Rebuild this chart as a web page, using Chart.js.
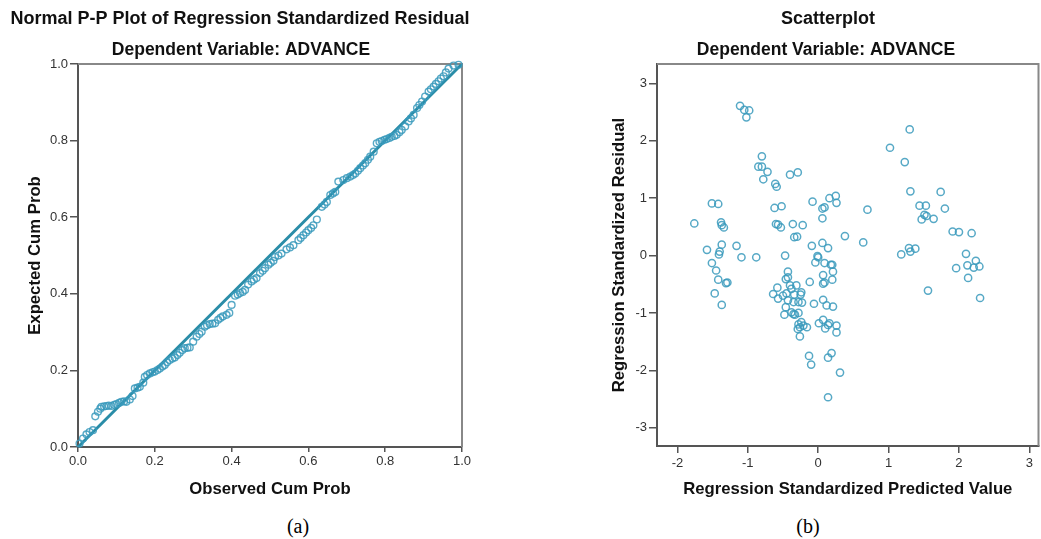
<!DOCTYPE html>
<html>
<head>
<meta charset="utf-8">
<script src="https://cdn.jsdelivr.net/npm/chart.js@4.4.0/dist/chart.umd.min.js"></script>
<style>
body { margin: 0; background: #fff; width: 1041px; height: 539px; overflow: hidden; position: relative; }
.box { position: absolute; top: 0; height: 505px; }
#ppBox { left: 0; width: 480px; }
#scBox { left: 595px; width: 449px; }
.cap { position: absolute; top: 514px; width: 60px; text-align: center; font-family: "Liberation Serif", "Times New Roman", serif; font-size: 20px; line-height: 24px; color: #000; }
</style>
</head>
<body>
<div class="box" id="ppBox"><canvas id="pp" width="480" height="505"></canvas></div>
<div class="box" id="scBox"><canvas id="sc" width="449" height="505"></canvas></div>
<div class="cap" style="left:268px">(a)</div>
<div class="cap" style="left:778px">(b)</div>
<script>
// P-P plot: observed vs expected cumulative probability
const ppObs = [0.004, 0.013, 0.022, 0.030, 0.039, 0.045, 0.052, 0.058, 0.061, 0.068,
  0.074, 0.080, 0.087, 0.094, 0.100, 0.107, 0.113, 0.120, 0.126, 0.135,
  0.142, 0.148, 0.155, 0.161, 0.170, 0.174, 0.180, 0.187, 0.194, 0.200,
  0.207, 0.213, 0.220, 0.226, 0.232, 0.239, 0.246, 0.252, 0.259, 0.265,
  0.272, 0.278, 0.285, 0.291, 0.300, 0.309, 0.316, 0.322, 0.330, 0.336,
  0.343, 0.350, 0.357, 0.365, 0.371, 0.377, 0.387, 0.394, 0.400, 0.409,
  0.416, 0.422, 0.429, 0.435, 0.443, 0.452, 0.458, 0.465, 0.474, 0.481,
  0.487, 0.496, 0.502, 0.509, 0.513, 0.522, 0.530, 0.543, 0.552, 0.561,
  0.574, 0.580, 0.587, 0.594, 0.600, 0.607, 0.613, 0.622, 0.635, 0.642,
  0.648, 0.657, 0.664, 0.670, 0.678, 0.691, 0.700, 0.709, 0.716, 0.722,
  0.729, 0.735, 0.742, 0.748, 0.755, 0.761, 0.770, 0.778, 0.785, 0.791,
  0.798, 0.804, 0.811, 0.817, 0.824, 0.830, 0.837, 0.843, 0.852, 0.861,
  0.867, 0.874, 0.883, 0.889, 0.896, 0.904, 0.913, 0.919, 0.926, 0.932,
  0.939, 0.945, 0.952, 0.958, 0.965, 0.978, 0.991];
const ppExp = [0.009, 0.022, 0.033, 0.039, 0.044, 0.080, 0.092, 0.100, 0.105, 0.106,
  0.107, 0.108, 0.107, 0.110, 0.112, 0.115, 0.118, 0.119, 0.118, 0.124,
  0.133, 0.153, 0.155, 0.157, 0.168, 0.183, 0.188, 0.192, 0.195, 0.197,
  0.201, 0.205, 0.210, 0.214, 0.221, 0.227, 0.231, 0.234, 0.240, 0.246,
  0.253, 0.258, 0.259, 0.260, 0.275, 0.288, 0.295, 0.301, 0.314, 0.318,
  0.321, 0.322, 0.323, 0.332, 0.337, 0.341, 0.345, 0.350, 0.371, 0.395,
  0.398, 0.402, 0.405, 0.410, 0.424, 0.432, 0.437, 0.441, 0.454, 0.460,
  0.467, 0.476, 0.481, 0.486, 0.496, 0.500, 0.505, 0.516, 0.521, 0.527,
  0.540, 0.546, 0.553, 0.560, 0.566, 0.572, 0.579, 0.594, 0.627, 0.633,
  0.640, 0.658, 0.662, 0.666, 0.693, 0.697, 0.702, 0.706, 0.710, 0.714,
  0.721, 0.728, 0.735, 0.741, 0.750, 0.758, 0.771, 0.793, 0.797, 0.799,
  0.802, 0.804, 0.807, 0.810, 0.812, 0.815, 0.822, 0.828, 0.837, 0.850,
  0.858, 0.867, 0.885, 0.893, 0.902, 0.915, 0.928, 0.934, 0.941, 0.948,
  0.955, 0.962, 0.968, 0.978, 0.988, 0.996, 0.998];
const refLineX = [0, 1];
const refLineY = [0, 1];
const ppTicks = [0, 0.2, 0.4, 0.6, 0.8, 1];
const ppTickLabels = ['0.0', '0.2', '0.4', '0.6', '0.8', '1.0'];

// Scatterplot: standardized predicted value vs standardized residual
const predicted = [-1.76, -1.58, -1.51, -1.42, -1.38, -1.37, -1.34, -1.37, -1.40, -1.41, -1.51, -1.45, -1.42, -1.31, -1.29, -1.47, -1.37, -1.16, -1.09, -0.88,
  -1.11, -1.05, -0.98, -1.02, -0.80, -0.85, -0.80, -0.72, -0.78, -0.61, -0.59, -0.40, -0.29, -0.62, -0.52, -0.60, -0.57, -0.53, -0.36, -0.22,
  -0.34, -0.30, -0.47, -0.08, 0.16, 0.25, 0.26, 0.06, 0.09, 0.06, 0.70, 0.38, -0.09, 0.06, 0.14, 0.64,
  1.30, 1.02, 1.23, 1.31, 1.74, 1.44, 1.53, 1.80, 1.51, 1.47, 1.64, 1.54, 1.91, 2.00, 2.18, 1.18, 1.29, 1.31, 1.38, 2.10,
  2.24, 2.12, 2.21, 2.29, 1.96, 2.13, 2.30, 1.56,
  -0.01, 0.00, -0.04, 0.09, 0.18, 0.20, 0.21, 0.07, 0.20, 0.07, 0.09, -0.12, -0.06, 0.07, 0.12, 0.21, 0.07, 0.01, 0.16, 0.10,
  0.26, 0.26, 0.14, -0.13, -0.10, 0.19, 0.14, 0.31, 0.14,
  -0.43, -0.46, -0.43, -0.58, -0.64, -0.57, -0.50, -0.45, -0.40, -0.38, -0.31, -0.34, -0.24, -0.25, -0.43, -0.35, -0.28, -0.23, -0.46, -0.28,
  -0.38, -0.35, -0.48, -0.33, -0.28, -0.26, -0.24, -0.21, -0.16, -0.29, -0.26];
const residual = [0.56, 0.10, 0.91, 0.90, 0.58, 0.53, 0.49, 0.19, 0.07, 0.02, -0.13, -0.26, -0.42, -0.48, -0.47, -0.66, -0.86, 0.17, -0.03, -0.03,
  2.61, 2.54, 2.53, 2.41, 1.73, 1.55, 1.55, 1.46, 1.33, 1.25, 1.20, 1.41, 1.45, 0.83, 0.86, 0.55, 0.54, 0.49, 0.55, 0.53,
  0.32, 0.33, 0.00, 0.94, 1.00, 1.04, 0.92, 0.82, 0.84, 0.65, 0.80, 0.34, 0.17, 0.22, 0.13, 0.23,
  2.20, 1.88, 1.63, 1.12, 1.11, 0.87, 0.87, 0.82, 0.71, 0.63, 0.64, 0.69, 0.42, 0.41, 0.39, 0.02, 0.13, 0.07, 0.12, 0.03,
  -0.09, -0.17, -0.21, -0.19, -0.22, -0.39, -0.74, -0.61,
  -0.01, -0.03, -0.12, -0.13, -0.16, -0.16, -0.28, -0.34, -0.42, -0.49, -0.47, -0.46, -0.84, -0.77, -0.87, -0.89, -1.12, -1.18, -1.18, -1.27,
  -1.22, -1.34, -1.21, -1.75, -1.90, -1.70, -1.78, -2.04, -2.47,
  -0.28, -0.41, -0.38, -0.56, -0.67, -0.75, -0.70, -0.66, -0.52, -0.58, -0.52, -0.68, -0.64, -0.68, -0.78, -0.81, -0.81, -0.82, -0.90, -1.00,
  -0.99, -1.02, -1.03, -1.03, -1.20, -1.25, -1.16, -1.22, -1.25, -1.28, -1.41];
const predTicks = [-2, -1, 0, 1, 2, 3];
const residTicks = [-3, -2, -1, 0, 1, 2, 3];

const FONT = '"Liberation Sans", Arial, sans-serif';
const pointColor = 'rgba(58, 154, 188, 0.85)';
const lineColor = '#2a8da8';

// titles drawn at fixed spots above the plot area
const headings = {
  id: 'headings',
  afterDraw(chart, args, opts) {
    const ctx = chart.ctx;
    ctx.save();
    ctx.fillStyle = '#111';
    ctx.textAlign = 'center';
    ctx.textBaseline = 'alphabetic';
    opts.lines.forEach(l => {
      ctx.font = 'bold ' + l.size + 'px ' + FONT;
      ctx.fillText(l.text, l.x, l.y);
    });
    ctx.restore();
  }
};

// gray top and right edges of the box
const frame = {
  id: 'frame',
  beforeDatasetsDraw(chart) {
    const {ctx, chartArea: a} = chart;
    ctx.save();
    ctx.strokeStyle = '#888';
    ctx.lineWidth = 2;
    ctx.beginPath();
    ctx.moveTo(a.left, a.top);
    ctx.lineTo(a.right, a.top);
    ctx.lineTo(a.right, a.bottom);
    ctx.stroke();
    ctx.restore();
  }
};

function axis(opts) {
  return {
    type: 'linear',
    min: opts.min,
    max: opts.max,
    afterBuildTicks: s => { s.ticks = opts.ticks.map(v => ({value: v})); },
    afterFit: s => { if (opts.width) s.width = opts.width; if (opts.height) s.height = opts.height; },
    ticks: {
      autoSkip: false,
      maxRotation: 0,
      padding: opts.tickPad,
      color: '#333',
      font: {family: FONT, size: 13},
      callback: v => opts.labels[opts.ticks.indexOf(v)]
    },
    grid: {drawOnChartArea: false, tickLength: opts.tickLen, color: '#555', lineWidth: 1.5},
    border: {color: '#555', width: 2},
    title: {
      display: true,
      text: opts.title,
      color: '#111',
      font: {family: FONT, size: 16.7, weight: 'bold'},
      padding: opts.titlePad
    }
  };
}

Chart.defaults.font.family = FONT;

new Chart(document.getElementById('pp'), {
  type: 'scatter',
  data: {
    datasets: [
      {
        data: ppObs.map((x, i) => ({x: x, y: ppExp[i]})),
        pointRadius: 3.4,
        pointBorderWidth: 1.4,
        borderColor: pointColor,
        backgroundColor: 'rgba(0,0,0,0)',
        clip: false
      },
      {
        data: refLineX.map((x, i) => ({x: x, y: refLineY[i]})),
        showLine: true,
        borderColor: lineColor,
        borderWidth: 3,
        pointRadius: 0
      }
    ]
  },
  options: {
    responsive: false,
    animation: false,
    layout: {padding: {top: 64, right: 18, left: 0, bottom: 0}},
    plugins: {
      legend: {display: false},
      tooltip: {enabled: false},
      headings: {lines: [
        {text: 'Normal P-P Plot of Regression Standardized Residual', x: 240, y: 24, size: 18},
        {text: 'Dependent Variable: ADVANCE', x: 241, y: 55, size: 17.5}
      ]}
    },
    scales: {
      x: axis({min: 0, max: 1, ticks: ppTicks, labels: ppTickLabels, height: 58, tickLen: 5, tickPad: 2,
        title: 'Observed Cum Prob', titlePad: {top: 0, bottom: 6}}),
      y: axis({min: 0, max: 1, ticks: ppTicks, labels: ppTickLabels, width: 78, tickLen: 8, tickPad: 2,
        title: 'Expected Cum Prob', titlePad: {top: 25, bottom: 0}})
    }
  },
  plugins: [headings, frame]
});

new Chart(document.getElementById('sc'), {
  type: 'scatter',
  data: {
    datasets: [{
      data: predicted.map((x, i) => ({x: x, y: residual[i]})),
      pointRadius: 3.6,
      pointBorderWidth: 1.5,
      borderColor: pointColor,
      backgroundColor: 'rgba(0,0,0,0)'
    }]
  },
  options: {
    responsive: false,
    animation: false,
    layout: {padding: {top: 64, right: 2, left: 0, bottom: 0}},
    plugins: {
      legend: {display: false},
      tooltip: {enabled: false},
      headings: {lines: [
        {text: 'Scatterplot', x: 233, y: 24, size: 18},
        {text: 'Dependent Variable: ADVANCE', x: 231, y: 55, size: 17.5}
      ]}
    },
    scales: {
      x: axis({min: -2.29, max: 3.13, ticks: predTicks, labels: predTicks.map(String), height: 59, tickLen: 7, tickPad: 3,
        title: 'Regression Standardized Predicted Value', titlePad: {top: 0, bottom: 6}}),
      y: axis({min: -3.32, max: 3.34, ticks: residTicks, labels: residTicks.map(String), width: 62, tickLen: 8, tickPad: 2,
        title: 'Regression Standardized Residual', titlePad: {top: 14, bottom: 0}})
    }
  },
  plugins: [headings, frame]
});
</script>
</body>
</html>
